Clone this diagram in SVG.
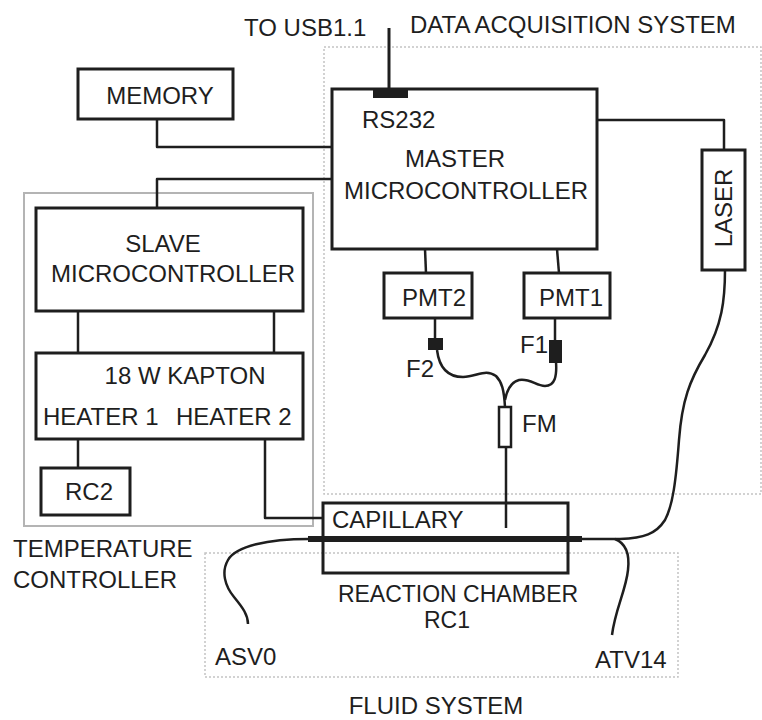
<svg xmlns="http://www.w3.org/2000/svg" width="762" height="720" viewBox="0 0 762 720">
<style>
text{font-family:"Liberation Sans",Arial,sans-serif;font-size:24px;fill:#1e1e1e}
.box{fill:none;stroke:#1e1e1e;stroke-width:3}
.ln{fill:none;stroke:#1e1e1e;stroke-width:2.5;stroke-linejoin:round}
.dot{fill:none;stroke:#c4c4c4;stroke-width:1.5;stroke-dasharray:2 2}
.grp{fill:none;stroke:#b4b4b4;stroke-width:2}
.blk{fill:#1e1e1e}
.m{text-anchor:middle}
.s{font-size:23px}
</style>
<rect width="762" height="720" fill="#fff"/>
<g id="groups">
<rect class="dot" x="324" y="47" width="437" height="447"/>
<rect class="grp" x="24" y="193" width="289" height="333"/>
<rect class="dot" x="205" y="553" width="473" height="124"/>
<text x="244" y="36">TO USB1.1</text>
<text x="410" y="33">DATA ACQUISITION SYSTEM</text>
<text x="13" y="557">TEMPERATURE</text>
<text x="13" y="588">CONTROLLER</text>
<text x="436" y="714" class="m">FLUID SYSTEM</text>
</g>
<g id="connectors">
<line class="ln" x1="389" y1="28" x2="389" y2="90" style="stroke-width:3"/>
<rect class="blk" x="373" y="88" width="35" height="10"/>
<polyline class="ln" points="157,119 157,147 332,147"/>
<polyline class="ln" points="332,179 157,179 157,208"/>
<line class="ln" x1="78" y1="311" x2="78" y2="353"/>
<line class="ln" x1="274" y1="311" x2="274" y2="353"/>
<line class="ln" x1="78" y1="439" x2="78" y2="468"/>
<polyline class="ln" points="265,439 265,518 323,518"/>
<polyline class="ln" points="597,120 724,120 724,150"/>
<line class="ln" x1="425" y1="249" x2="426" y2="273"/>
<line class="ln" x1="557" y1="249" x2="559" y2="273"/>
<line class="ln" x1="435" y1="318" x2="435" y2="340"/>
<line class="ln" x1="555" y1="318" x2="555" y2="342"/>
<rect class="blk" x="428" y="338" width="15" height="12"/>
<rect class="blk" x="549" y="340" width="13" height="23"/>
<path class="ln" d="M437,350 C439,366 447,377 463,377 C477,377 485,368 496,376 C502,382 504,390 505,407"/>
<path class="ln" d="M556,362 C557,376 555,386 545,386 C536,386 530,378 519,380 C511,382 507,390 505,400"/>
<rect class="box" x="499" y="407" width="12" height="40" style="stroke-width:2.5"/>
<line class="ln" x1="506" y1="447" x2="506" y2="528"/>
<path class="ln" d="M725,270 C725,300 722,325 705,355 C690,380 682,400 679,440 C676,480 673,505 665,520 C656,534 644,538 620,539 L582,539"/>
<line x1="308" y1="539" x2="582" y2="539" stroke="#1e1e1e" stroke-width="6"/>
<path class="ln" d="M309,539 C268,539 236,546 228,560 C221,572 225,586 234,597 C243,608 248,615 248,624"/>
<path class="ln" d="M615,539 C625,543 630,553 628,570 C626,590 615,610 612,635"/>
</g>
<g id="memory"><rect class="box" x="78" y="69" width="155" height="50"/><text x="160" y="104" class="m">MEMORY</text></g>
<g id="master"><rect class="box" x="332" y="89" width="265" height="160"/><text x="362" y="128">RS232</text><text x="455" y="167" class="m">MASTER</text><text x="466" y="199" class="m">MICROCONTROLLER</text></g>
<g id="laser"><rect class="box" x="702" y="150" width="43" height="120"/><text transform="translate(732,208) rotate(-90)" class="m">LASER</text></g>
<g id="slave"><rect class="box" x="36" y="208" width="267" height="103"/><text x="163" y="252" class="m">SLAVE</text><text x="173" y="282" class="m">MICROCONTROLLER</text></g>
<g id="heater"><rect class="box" x="36" y="353" width="267" height="86"/><text x="185" y="384" class="m">18 W KAPTON</text><text x="43" y="425">HEATER 1</text><text x="176" y="425">HEATER 2</text></g>
<g id="rc2"><rect class="box" x="41" y="468" width="89" height="47"/><text x="89" y="500" class="m">RC2</text></g>
<g id="pmt2"><rect class="box" x="384" y="273" width="88" height="45"/><text x="434" y="306" class="m">PMT2</text><text x="406" y="377">F2</text></g>
<g id="pmt1"><rect class="box" x="524" y="273" width="86" height="45"/><text x="571" y="306" class="m">PMT1</text><text x="520" y="353">F1</text></g>
<g id="fm"><text x="522" y="432">FM</text></g>
<g id="chamber"><rect class="box" x="323" y="503" width="245" height="70"/><text x="332" y="528">CAPILLARY</text><text x="458" y="602" class="m s">REACTION CHAMBER</text><text x="447" y="628" class="m s">RC1</text></g>
<g id="valves"><text x="215" y="665">ASV0</text><text x="595" y="668">ATV14</text></g>
</svg>
